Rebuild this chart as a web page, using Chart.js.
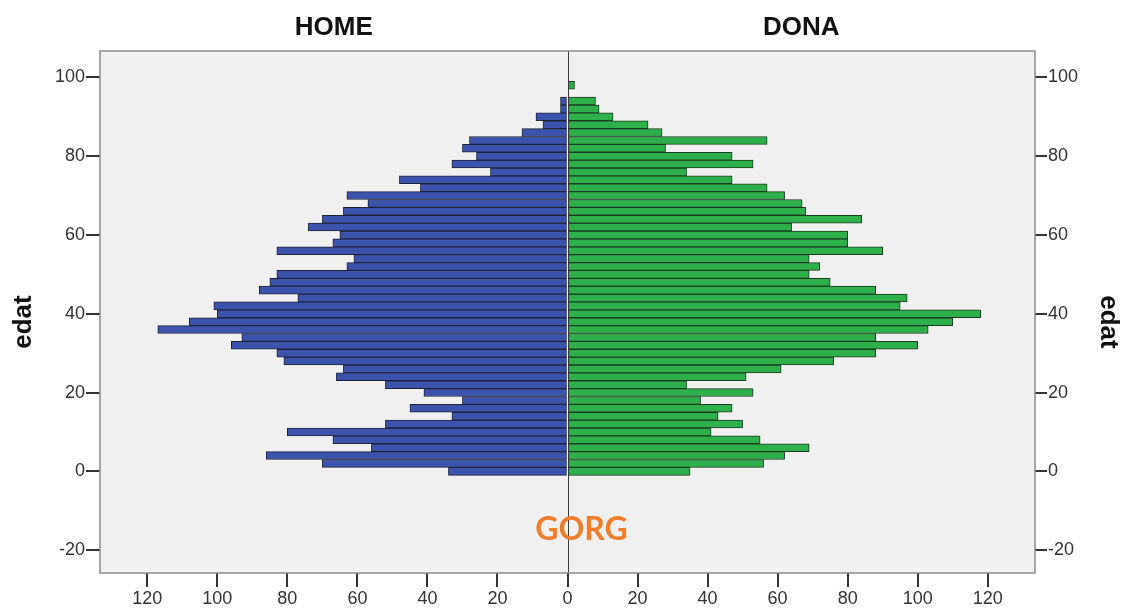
<!DOCTYPE html>
<html>
<head>
<meta charset="utf-8">
<script src="https://cdn.jsdelivr.net/npm/chart.js@4.4.1/dist/chart.umd.min.js"></script>
<style>
  html, body { margin: 0; padding: 0; background: #ffffff; }
  #c { display: block; }
</style>
</head>
<body>
<canvas id="c" width="1129" height="614"></canvas>
<script>
// ---- data ----
const ages = [0, 2, 4, 6, 8, 10, 12, 14, 16, 18, 20, 22, 24, 26, 28, 30, 32, 34, 36, 38,
              40, 42, 44, 46, 48, 50, 52, 54, 56, 58, 60, 62, 64, 66, 68, 70, 72, 74, 76, 78,
              80, 82, 84, 86, 88, 90, 92, 94, 96, 98];
const home = [34, 70, 86, 56, 67, 80, 52, 33, 45, 30, 41, 52, 66, 64, 81, 83, 96, 93, 117, 108,
              100, 101, 77, 88, 85, 83, 63, 61, 83, 67, 65, 74, 70, 64, 57, 63, 42, 48, 22, 33,
              26, 30, 28, 13, 7, 9, 2, 2, 0, 0];
const dona = [35, 56, 62, 69, 55, 41, 50, 43, 47, 38, 53, 34, 51, 61, 76, 88, 100, 88, 103, 110,
              118, 95, 97, 88, 75, 69, 72, 69, 90, 80, 80, 64, 84, 68, 67, 62, 57, 47, 34, 53,
              47, 28, 57, 27, 23, 13, 9, 8, 0, 2];
const xTicks = [-120, -100, -80, -60, -40, -20, 0, 20, 40, 60, 80, 100, 120];
const yTicks = [-20, 0, 20, 40, 60, 80, 100];
const sideTitles = ['HOME', 'DONA'];
const axisTitle = 'edat';
const note = 'GORG';

// ---- styling ----
const X_MIN = -133.5, X_MAX = 133.5, Y_MIN = -25.8, Y_MAX = 106.7;
const tickFont = { family: "'Liberation Sans', Arial, sans-serif", size: 18 };
const tickColor = '#333';

const deco = {
  id: 'deco',
  beforeDraw(chart) {
    const { ctx, chartArea: a } = chart;
    ctx.save();
    ctx.fillStyle = '#F0F0F0';
    ctx.fillRect(a.left, a.top, a.right - a.left, a.bottom - a.top);
    ctx.restore();
  },
  afterDatasetsDraw(chart) {
    const { ctx, chartArea: a } = chart;
    const x0 = Math.round(chart.scales.x.getPixelForValue(0)) + 0.5;
    ctx.save();
    ctx.strokeStyle = '#3a3a3a';
    ctx.lineWidth = 1;
    ctx.beginPath();
    ctx.moveTo(x0, a.top);
    ctx.lineTo(x0, a.bottom);
    ctx.stroke();
    ctx.restore();
  },
  afterDraw(chart) {
    const { ctx, chartArea: a } = chart;
    const x0 = chart.scales.x.getPixelForValue(0);
    const yMid = (a.top + a.bottom) / 2;
    ctx.save();
    // frame
    ctx.strokeStyle = '#8c8c8c';
    ctx.lineWidth = 1.5;
    ctx.strokeRect(a.left, a.top, a.right - a.left, a.bottom - a.top);
    // side titles
    ctx.fillStyle = '#111';
    ctx.font = "bold 26px 'Liberation Sans', Arial, sans-serif";
    ctx.textAlign = 'center';
    ctx.textBaseline = 'middle';
    ctx.fillText(sideTitles[0], (a.left + x0) / 2, 28);
    ctx.fillText(sideTitles[1], (x0 + a.right) / 2, 28);
    // axis titles
    ctx.save();
    ctx.translate(24, yMid + 10);
    ctx.rotate(-Math.PI / 2);
    ctx.fillText(axisTitle, 0, 0);
    ctx.restore();
    ctx.save();
    ctx.translate(1108, yMid + 10);
    ctx.rotate(Math.PI / 2);
    ctx.fillText(axisTitle, 0, 0);
    ctx.restore();
    // note
    ctx.fillStyle = '#F07D2C';
    ctx.font = "bold 32px Lato, 'Open Sans', sans-serif";
    ctx.fillText(note, x0 + 14, a.bottom - 43);
    ctx.restore();
  }
};

const setTicks = (vals) => (scale) => { scale.ticks = vals.map(v => ({ value: v })); };

new Chart(document.getElementById('c'), {
  type: 'bar',
  data: {
    datasets: [
      {
        label: sideTitles[0],
        data: ages.map((a, i) => ({ x: -home[i], y: a })),
        backgroundColor: '#3C53AE',
        borderColor: '#1f2336',
        borderWidth: 1,
        borderSkipped: false,
        stack: 'p',
        barPercentage: 1,
        categoryPercentage: 1
      },
      {
        label: sideTitles[1],
        data: ages.map((a, i) => ({ x: dona[i], y: a })),
        backgroundColor: '#2DB04A',
        borderColor: '#1d3a22',
        borderWidth: 1,
        borderSkipped: false,
        stack: 'p',
        barPercentage: 1,
        categoryPercentage: 1
      }
    ]
  },
  options: {
    indexAxis: 'y',
    responsive: false,
    animation: false,
    layout: { padding: { top: 51, left: 0, right: 0, bottom: 0 } },
    plugins: { legend: { display: false }, tooltip: { enabled: false } },
    scales: {
      x: {
        type: 'linear', min: X_MIN, max: X_MAX, stacked: true, offset: false,
        afterBuildTicks: setTicks(xTicks),
        afterFit: (s) => { s.height = 41; },
        grid: { offset: false, drawOnChartArea: false, drawTicks: true, tickLength: 14, color: '#333', lineWidth: 2 },
        border: { display: false },
        ticks: { callback: (v) => Math.abs(v), font: tickFont, color: tickColor, padding: 1, maxRotation: 0, autoSkip: false }
      },
      y: {
        type: 'linear', position: 'left', min: Y_MIN, max: Y_MAX, stacked: true, offset: false,
        afterBuildTicks: setTicks(yTicks),
        afterFit: (s) => { s.width = 100; },
        grid: { offset: false, drawOnChartArea: false, drawTicks: true, tickLength: 14, color: '#333', lineWidth: 2 },
        border: { display: false },
        ticks: { font: tickFont, color: tickColor, padding: 1, autoSkip: false }
      },
      y2: {
        type: 'linear', position: 'right', min: Y_MIN, max: Y_MAX, offset: false,
        afterBuildTicks: setTicks(yTicks),
        afterFit: (s) => { s.width = 94; },
        grid: { offset: false, drawOnChartArea: false, drawTicks: true, tickLength: 12, color: '#333', lineWidth: 2 },
        border: { display: false },
        ticks: { font: tickFont, color: tickColor, padding: 1, autoSkip: false }
      }
    }
  },
  plugins: [deco]
});
</script>
</body>
</html>
